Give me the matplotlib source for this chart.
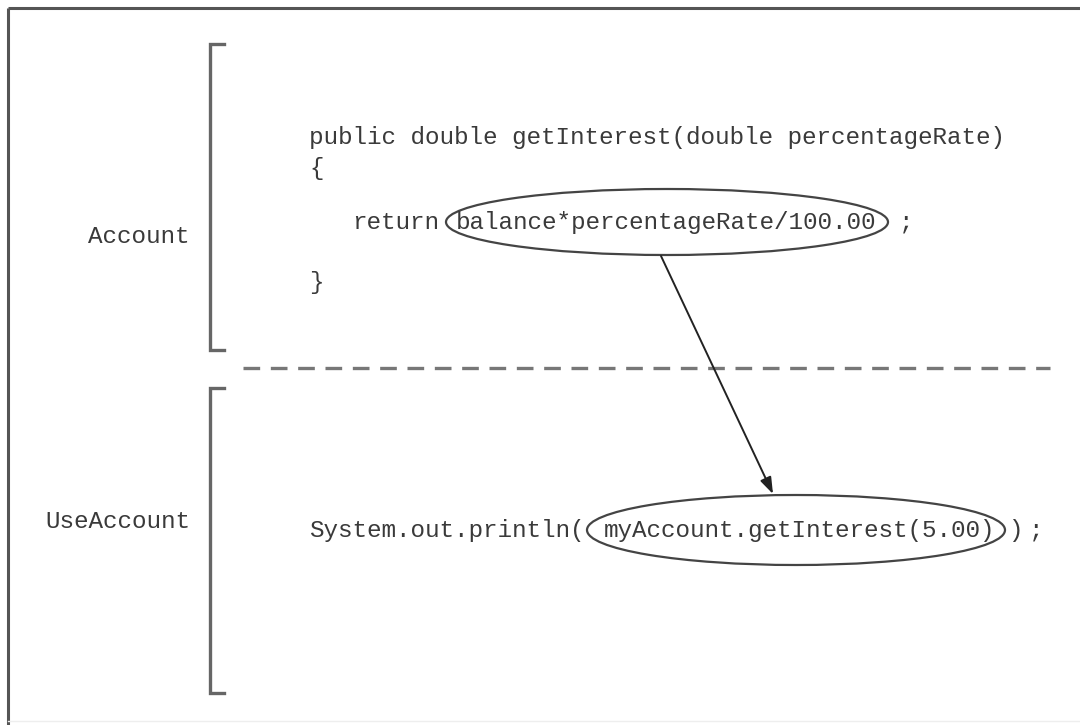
import matplotlib
matplotlib.use("Agg")
import matplotlib.pyplot as plt
from matplotlib.patches import Ellipse

# Content
section_labels = ["Account", "UseAccount"]
section_label_y = [236, 522]
code_pieces = ["public double getInterest(double percentageRate)", "{",
               "return", "balance*percentageRate/100.00", ";", "}",
               "System.out.println(", "myAccount.getInterest(5.00)", ")", ";"]
code_x = [309, 309, 352, 456, 899, 309, 309, 604, 1008, 1029]
code_y = [137, 168, 222, 222, 222, 282, 530, 530, 530, 530]

W, H = 1080, 725
fig = plt.figure(figsize=(W / 100, H / 100), dpi=100)
ax = fig.add_axes([0, 0, 1, 1])
ax.set_xlim(0, W)
ax.set_ylim(H, 0)
ax.axis("off")

txt_color = "#3a3a3a"
mono = "Liberation Mono"
fs = 17.45

# Frame (top and left)
ax.plot([8, W], [8, 8], color="#555555", lw=2.2, solid_capstyle="butt")
ax.plot([8, 8], [8, H], color="#555555", lw=2.2, solid_capstyle="butt")
ax.plot([8, W], [721, 721], color="#eeeeee", lw=1)

# Brackets
br_color = "#666666"
for top, bot in [(44, 350), (388, 693)]:
    ax.plot([224, 210, 210, 224], [top, top, bot, bot], color=br_color, lw=2.4,
            solid_joinstyle="miter")

# Dashed separator
ax.plot([243, 1050], [368, 368], color="#777777", lw=2.4, dashes=(5, 3.2))

# Section labels
for lab, y in zip(section_labels, section_label_y):
    ax.text(190, y, lab, ha="right", va="center", fontsize=fs, family=mono, color=txt_color)

# Code
for s, x, y in zip(code_pieces, code_x, code_y):
    ax.text(x, y, s, ha="left", va="center", fontsize=fs, family=mono, color=txt_color)

# Ellipses
ax.add_patch(Ellipse((667, 222), 442, 66, fill=False, ec="#444444", lw=1.6))
ax.add_patch(Ellipse((796, 530), 418, 70, fill=False, ec="#444444", lw=1.6))

# Arrow
ax.annotate("", xy=(773, 494), xytext=(661, 256),
            arrowprops=dict(arrowstyle="-|>,head_length=1.0,head_width=0.35",
                            color="#222222", lw=1.4, shrinkA=0, shrinkB=0))

fig.savefig("out.png", dpi=100, facecolor="white")
